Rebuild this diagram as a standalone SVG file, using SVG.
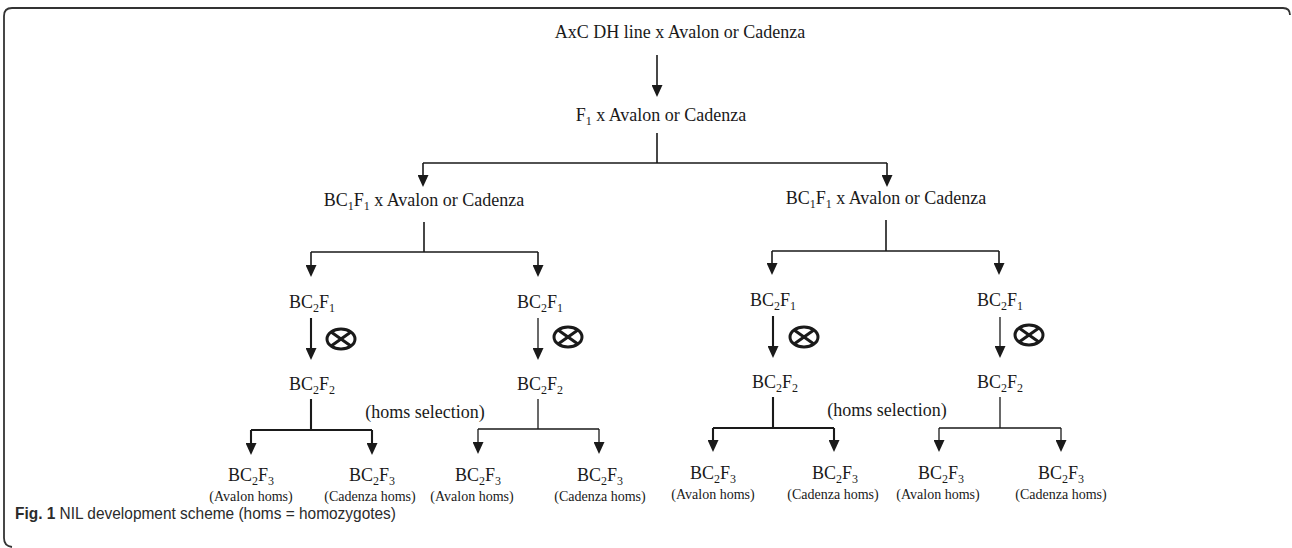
<svg xmlns="http://www.w3.org/2000/svg" width="1292" height="548" viewBox="0 0 1292 548">
<style>
  .t { font-family: "Liberation Serif", "Times New Roman", serif; font-size: 18px; fill: #1a1a1a; text-anchor: middle; }
  .s { font-size: 12px; }
  .sm { font-family: "Liberation Serif", "Times New Roman", serif; font-size: 14px; fill: #1a1a1a; text-anchor: middle; }
  .ln { stroke: #1a1a1a; stroke-width: 1.6; fill: none; }
  .thk { stroke-width: 2.1; }
  .thn { stroke-width: 1.3; }
  .ar { marker-end: url(#ah); }
  .sym { stroke: #1a1a1a; stroke-width: 3; fill: none; }
  .cap { font-family: "Liberation Sans", Arial, sans-serif; font-size: 17px; fill: #2b2b2b; }
</style>
<defs>
  <marker id="ah" viewBox="0 0 12 11" refX="6" refY="5.5" markerWidth="12" markerHeight="11" markerUnits="userSpaceOnUse" orient="auto">
    <path d="M0,0 L12,5.5 L0,11 z" fill="#1a1a1a"/>
  </marker>
  <g id="otimes">
    <ellipse cx="0" cy="0" rx="14" ry="10" class="sym"/>
    <path d="M-9.9,-7 L9.9,7 M-9.9,7 L9.9,-7" class="sym" stroke-width="2.6"/>
  </g>
</defs>
<rect width="1292" height="548" fill="#ffffff"/>
<path d="M1290,15 Q1290,8 1283,8 L12,8 Q4,8 4,16 L4,538 Q4,546 12,547" fill="none" stroke="#333" stroke-width="1.8"/>

<g id="connectors">
  <line class="ln ar" x1="657" y1="55" x2="657" y2="91"/>
  <path class="ln" d="M657,133 V163 M423,163 H887"/>
  <line class="ln ar" x1="423" y1="163" x2="423" y2="181"/>
  <line class="ln ar" x1="887" y1="163" x2="887" y2="181"/>
  <path class="ln" d="M424,222 V252 M311,252 H538"/>
  <line class="ln ar" x1="311" y1="252" x2="311" y2="271"/>
  <line class="ln ar" x1="538" y1="252" x2="538" y2="271"/>
  <path class="ln" d="M886,220 V251 M772,251 H999"/>
  <line class="ln ar" x1="772" y1="251" x2="772" y2="269"/>
  <line class="ln ar" x1="999" y1="251" x2="999" y2="269"/>
  <line class="ln thk ar" x1="311" y1="318" x2="311" y2="354"/>
  <line class="ln thn ar" x1="538" y1="318" x2="538" y2="354"/>
  <line class="ln thk ar" x1="773" y1="316" x2="773" y2="352"/>
  <line class="ln thn ar" x1="1000" y1="317" x2="1000" y2="352"/>
  <path class="ln thk" d="M311,399 V430 M251,430 H372"/>
  <line class="ln thk ar" x1="251" y1="430" x2="251" y2="449"/>
  <line class="ln thk ar" x1="372" y1="430" x2="372" y2="449"/>
  <path class="ln thn" d="M538,399 V429 M478,429 H599"/>
  <line class="ln thn ar" x1="478" y1="429" x2="478" y2="448"/>
  <line class="ln thn ar" x1="599" y1="429" x2="599" y2="448"/>
  <path class="ln thk" d="M773,397 V428 M713,428 H834"/>
  <line class="ln thk ar" x1="713" y1="428" x2="713" y2="446"/>
  <line class="ln thk ar" x1="834" y1="428" x2="834" y2="446"/>
  <path class="ln thn" d="M1000,397 V428 M939,428 H1061"/>
  <line class="ln thn ar" x1="939" y1="428" x2="939" y2="446"/>
  <line class="ln thn ar" x1="1061" y1="428" x2="1061" y2="446"/>
</g>

<g id="selfing">
  <use href="#otimes" x="341" y="339"/>
  <use href="#otimes" x="568" y="337"/>
  <use href="#otimes" x="804" y="337"/>
  <use href="#otimes" x="1029" y="335"/>
</g>

<g id="n-top"><text class="t" x="680" y="38">AxC DH line x Avalon or Cadenza</text></g>
<g id="n-f1"><text class="t" x="661" y="121">F<tspan class="s" dy="4">1</tspan><tspan dy="-4"> x Avalon or Cadenza</tspan></text></g>
<g id="n-bc1f1-l"><text class="t" x="424" y="206">BC<tspan class="s" dy="4">1</tspan><tspan dy="-4">F</tspan><tspan class="s" dy="4">1</tspan><tspan dy="-4"> x Avalon or Cadenza</tspan></text></g>
<g id="n-bc1f1-r"><text class="t" x="886" y="204">BC<tspan class="s" dy="4">1</tspan><tspan dy="-4">F</tspan><tspan class="s" dy="4">1</tspan><tspan dy="-4"> x Avalon or Cadenza</tspan></text></g>

<g id="n-bc2f1-a"><text class="t" x="312" y="308">BC<tspan class="s" dy="4">2</tspan><tspan dy="-4">F</tspan><tspan class="s" dy="4">1</tspan></text></g>
<g id="n-bc2f1-b"><text class="t" x="540" y="308">BC<tspan class="s" dy="4">2</tspan><tspan dy="-4">F</tspan><tspan class="s" dy="4">1</tspan></text></g>
<g id="n-bc2f1-c"><text class="t" x="773" y="306">BC<tspan class="s" dy="4">2</tspan><tspan dy="-4">F</tspan><tspan class="s" dy="4">1</tspan></text></g>
<g id="n-bc2f1-d"><text class="t" x="1000" y="306">BC<tspan class="s" dy="4">2</tspan><tspan dy="-4">F</tspan><tspan class="s" dy="4">1</tspan></text></g>

<g id="n-bc2f2-a"><text class="t" x="312" y="390">BC<tspan class="s" dy="4">2</tspan><tspan dy="-4">F</tspan><tspan class="s" dy="4">2</tspan></text></g>
<g id="n-bc2f2-b"><text class="t" x="540" y="390">BC<tspan class="s" dy="4">2</tspan><tspan dy="-4">F</tspan><tspan class="s" dy="4">2</tspan></text></g>
<g id="n-bc2f2-c"><text class="t" x="775" y="388">BC<tspan class="s" dy="4">2</tspan><tspan dy="-4">F</tspan><tspan class="s" dy="4">2</tspan></text></g>
<g id="n-bc2f2-d"><text class="t" x="1000" y="388">BC<tspan class="s" dy="4">2</tspan><tspan dy="-4">F</tspan><tspan class="s" dy="4">2</tspan></text></g>

<g id="lbl-sel-l"><text class="t" x="425" y="418" font-size="17">(homs selection)</text></g>
<g id="lbl-sel-r"><text class="t" x="887" y="416" font-size="17">(homs selection)</text></g>

<g id="n-bc2f3-1"><text class="t" x="251" y="481">BC<tspan class="s" dy="4">2</tspan><tspan dy="-4">F</tspan><tspan class="s" dy="4">3</tspan></text><text class="sm" x="251" y="501">(Avalon homs)</text></g>
<g id="n-bc2f3-2"><text class="t" x="372" y="481">BC<tspan class="s" dy="4">2</tspan><tspan dy="-4">F</tspan><tspan class="s" dy="4">3</tspan></text><text class="sm" x="370" y="501">(Cadenza homs)</text></g>
<g id="n-bc2f3-3"><text class="t" x="478" y="481">BC<tspan class="s" dy="4">2</tspan><tspan dy="-4">F</tspan><tspan class="s" dy="4">3</tspan></text><text class="sm" x="472" y="501">(Avalon homs)</text></g>
<g id="n-bc2f3-4"><text class="t" x="600" y="481">BC<tspan class="s" dy="4">2</tspan><tspan dy="-4">F</tspan><tspan class="s" dy="4">3</tspan></text><text class="sm" x="600" y="501">(Cadenza homs)</text></g>
<g id="n-bc2f3-5"><text class="t" x="713" y="479">BC<tspan class="s" dy="4">2</tspan><tspan dy="-4">F</tspan><tspan class="s" dy="4">3</tspan></text><text class="sm" x="713" y="499">(Avalon homs)</text></g>
<g id="n-bc2f3-6"><text class="t" x="835" y="479">BC<tspan class="s" dy="4">2</tspan><tspan dy="-4">F</tspan><tspan class="s" dy="4">3</tspan></text><text class="sm" x="833" y="499">(Cadenza homs)</text></g>
<g id="n-bc2f3-7"><text class="t" x="941" y="479">BC<tspan class="s" dy="4">2</tspan><tspan dy="-4">F</tspan><tspan class="s" dy="4">3</tspan></text><text class="sm" x="938" y="499">(Avalon homs)</text></g>
<g id="n-bc2f3-8"><text class="t" x="1061" y="479">BC<tspan class="s" dy="4">2</tspan><tspan dy="-4">F</tspan><tspan class="s" dy="4">3</tspan></text><text class="sm" x="1061" y="499">(Cadenza homs)</text></g>

<g id="caption"><text class="cap" x="15" y="519" textLength="381" lengthAdjust="spacingAndGlyphs"><tspan font-weight="bold">Fig. 1</tspan> NIL development scheme (homs = homozygotes)</text></g>
</svg>
